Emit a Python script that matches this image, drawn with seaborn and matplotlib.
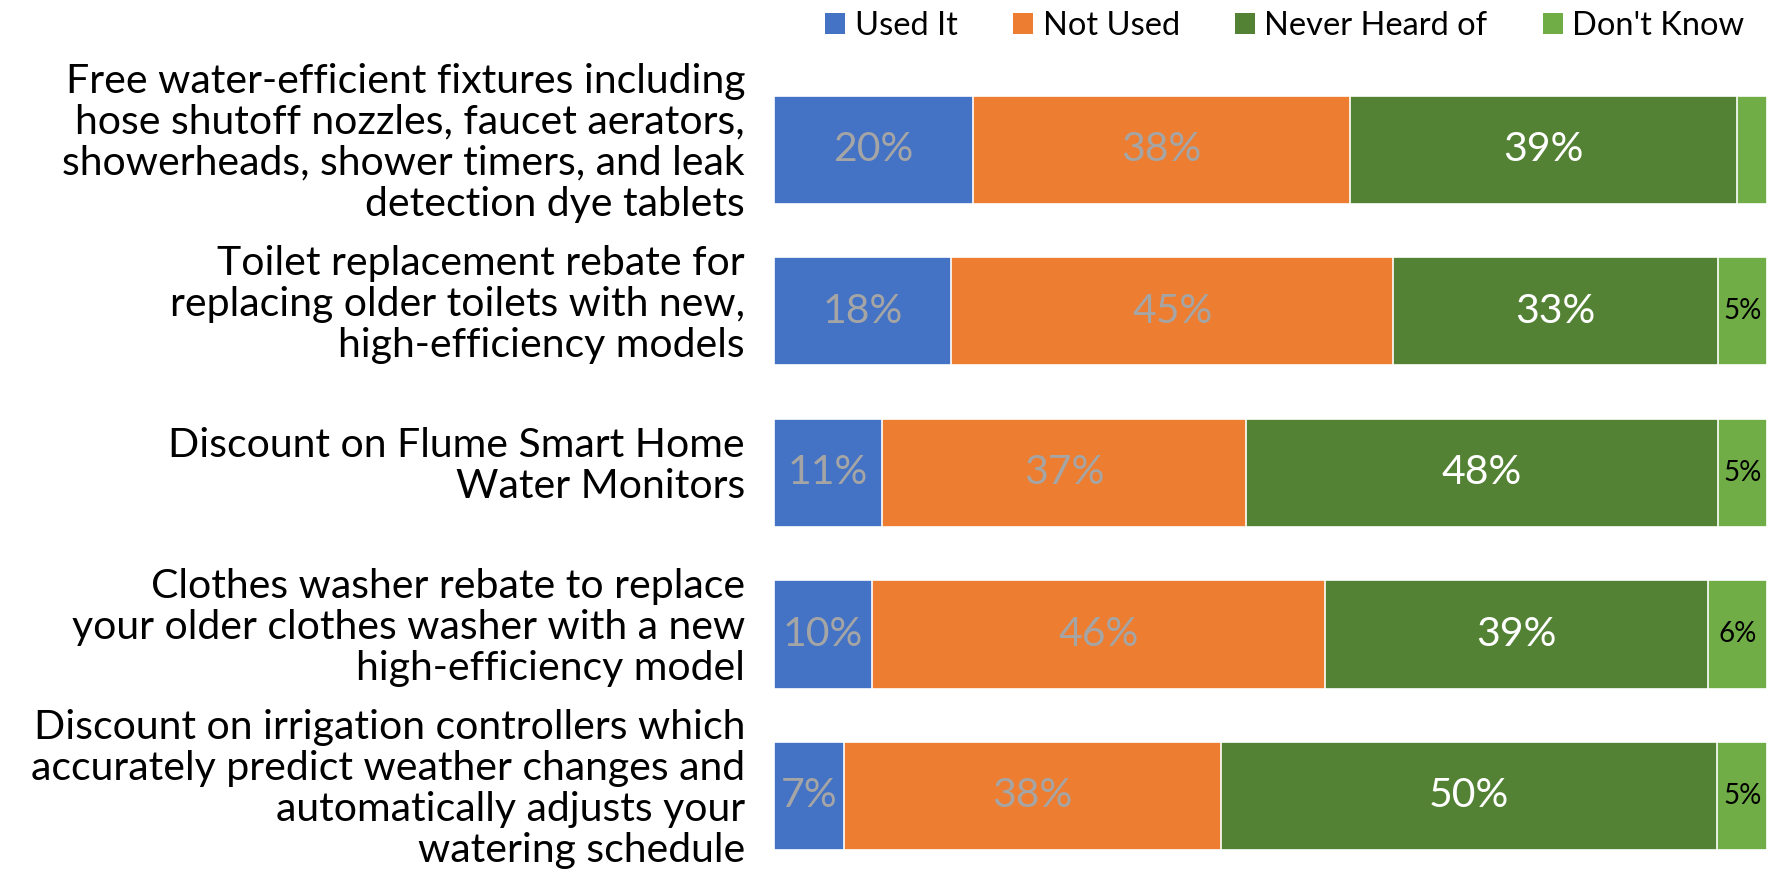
import matplotlib
matplotlib.use("Agg")
import matplotlib.pyplot as plt
import matplotlib.transforms as mtransforms
from matplotlib.patches import Patch
import seaborn as sns
import pandas as pd
import numpy as np

# Survey results: awareness / use of water-conservation programs (percent of respondents)
programs = [
    "Free water-efficient fixtures including\nhose shutoff nozzles, faucet aerators,\nshowerheads, shower timers, and leak\ndetection dye tablets",
    "Toilet replacement rebate for\nreplacing older toilets with new,\nhigh-efficiency models",
    "Discount on Flume Smart Home\nWater Monitors",
    "Clothes washer rebate to replace\nyour older clothes washer with a new\nhigh-efficiency model",
    "Discount on irrigation controllers which\naccurately predict weather changes and\nautomatically adjusts your\nwatering schedule",
]
used_it = [20, 18, 11, 10, 7]
not_used = [38, 45, 37, 46, 38]
never_heard = [39, 33, 48, 39, 50]
dont_know = [3, 5, 5, 6, 5]

series_names = ["Used It", "Not Used", "Never Heard of", "Don't Know"]
series_colors = ["#4472C4", "#ED7D31", "#548235", "#70AD47"]
label_colors = ["#A5A5A5", "#A5A5A5", "#FFFFFF", "#000000"]
label_sizes = [29.5, 29.5, 29.5, 20]
show_label = [[True] * 5, [True] * 5, [True] * 5, [False, True, True, True, True]]

FONT = ["Lato", "DejaVu Sans"]

sns.set_style("white")
plt.rcParams["font.family"] = FONT
plt.rcParams["text.color"] = "black"

values = np.array([used_it, not_used, never_heard, dont_know], dtype=float)
# 100% stacked: each row is scaled to its own total
shares = values / values.sum(axis=0) * 100
cum = np.cumsum(shares, axis=0)

fig = plt.figure(figsize=(17.7, 8.69), dpi=100)
ax = fig.add_axes([774 / 1770, 0.0, (1767 - 774) / 1770, (869 - 69) / 869])

ids = list(range(len(programs)))
# draw cumulative totals from the outermost segment inwards so each stack shows all parts
for k in range(len(series_names) - 1, -1, -1):
    df = pd.DataFrame({"program": ids, "value": cum[k]})
    sns.barplot(data=df, x="value", y="program", orient="h", order=ids,
                color=series_colors[k], saturation=1, width=0.67,
                edgecolor="white", linewidth=1.2, ax=ax)

for k in range(len(series_names)):
    for i in ids:
        if not show_label[k][i]:
            continue
        left = cum[k][i] - shares[k][i]
        ax.text(left + shares[k][i] / 2, i, f"{int(values[k][i])}%",
                ha="center", va="center", color=label_colors[k],
                fontsize=label_sizes[k])

ax.set_xlim(0, 100)
ax.set_ylim(4 + (869 - 796) / 161.4, -0.5)
ax.set_xlabel("")
ax.set_ylabel("")
ax.set_xticks([])
ax.set_yticks(ids)
ax.set_yticklabels([])
ax.tick_params(axis="y", length=0)

# category names, right-aligned just left of the bars
name_tf = mtransforms.blended_transform_factory(ax.transAxes, ax.transData) + \
    mtransforms.ScaledTranslation(-29 / 100, 7 / 100, fig.dpi_scale_trans)
for i, name in zip(ids, programs):
    ax.text(0, i, name, transform=name_tf, ha="right", va="center",
            fontsize=29.5, linespacing=1.13, color="black", multialignment="right")

for s in ax.spines.values():
    s.set_visible(False)

handles = [Patch(facecolor=c, edgecolor="none") for c in series_colors]
fig.legend(handles, series_names, loc="center", bbox_to_anchor=(1285 / 1770, 1 - 26 / 869),
           ncol=4, frameon=False, fontsize=23.5, handlelength=0.6, handleheight=0.65,
           handletextpad=0.3, columnspacing=1.7, labelcolor="black")

fig.savefig("out.png", dpi=100)
